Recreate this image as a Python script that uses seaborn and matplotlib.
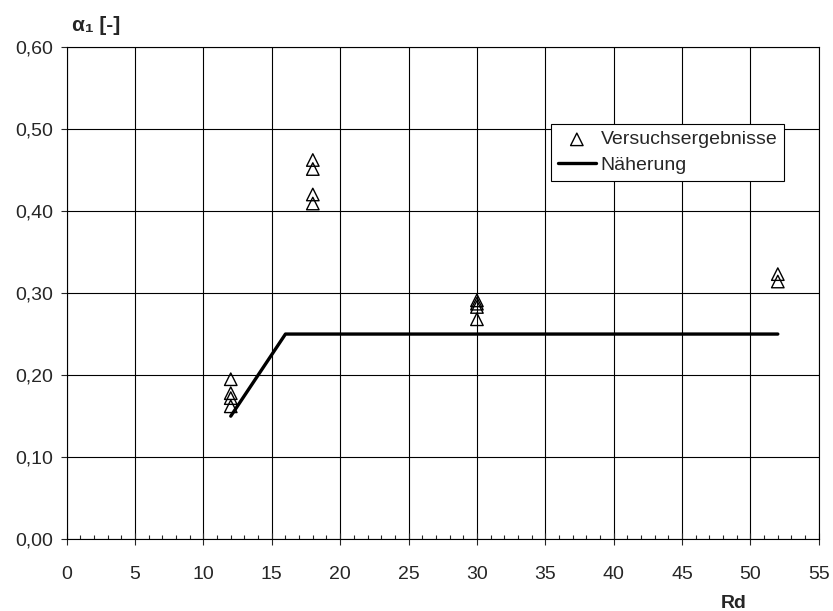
import numpy as np
import pandas as pd
import matplotlib
matplotlib.use("Agg")
import matplotlib.pyplot as plt
import seaborn as sns

# Data
rd_tests = [12, 12, 12, 12, 18, 18, 18, 18, 30, 30, 30, 30, 52, 52]
alpha_tests = [0.195, 0.178, 0.172, 0.162, 0.462, 0.451, 0.420, 0.409,
               0.291, 0.287, 0.283, 0.268, 0.323, 0.314]
rd_approx = [12, 16, 52]
alpha_approx = [0.15, 0.25, 0.25]
x_ticks = [0, 5, 10, 15, 20, 25, 30, 35, 40, 45, 50, 55]
y_ticks = [0.0, 0.1, 0.2, 0.3, 0.4, 0.5, 0.6]
y_tick_labels = ['0,00', '0,10', '0,20', '0,30', '0,40', '0,50', '0,60']

sns.set_style('white')
plt.rcParams['font.family'] = ['Liberation Sans', 'DejaVu Sans']

fig = plt.figure(figsize=(8.33, 6.11), dpi=100)
ax = fig.add_axes([0.080, 0.1173, 0.903, 0.8063])

tests = pd.DataFrame({'Rd': rd_tests, 'alpha': alpha_tests})
approx = pd.DataFrame({'Rd': rd_approx, 'alpha': alpha_approx})

sns.lineplot(data=approx, x='Rd', y='alpha', sort=False, color='black',
             linewidth=2.4, label='Näherung', ax=ax, zorder=3)
sns.scatterplot(data=tests, x='Rd', y='alpha', marker='^', s=81,
                facecolor='none', edgecolor='black', linewidth=1.0,
                label='Versuchsergebnisse', ax=ax, zorder=4)

# Axes and grid
ax.set_xlim(0, 55)
ax.set_ylim(0, 0.6)
ax.set_xticks(x_ticks)
ax.set_xticks(np.arange(0, 56, 1), minor=True)
ax.set_yticks(y_ticks)
ax.set_yticklabels(y_tick_labels)
ax.grid(True, which='major', color='black', linewidth=0.8)
ax.set_axisbelow(True)
for s in ax.spines.values():
    s.set_color('black')
    s.set_linewidth(0.8)
ax.tick_params(axis='x', which='major', direction='inout', length=8, width=0.8,
               pad=15, labelsize=14, bottom=True)
ax.tick_params(axis='x', which='minor', direction='in', length=3, width=0.8,
               bottom=True)
ax.tick_params(axis='y', which='major', direction='out', length=4, width=0.8,
               pad=6, labelsize=14, left=True)
ax.set_xlabel('')
ax.set_ylabel('')

# Legend
handles, labels = ax.get_legend_handles_labels()
order = [labels.index('Versuchsergebnisse'), labels.index('Näherung')]
leg = ax.legend([handles[i] for i in order], [labels[i] for i in order],
                loc='upper left', bbox_to_anchor=(0.644, 0.843),
                borderaxespad=0, fontsize=14, frameon=True, fancybox=False,
                framealpha=1, edgecolor='black', handlelength=1.95,
                handletextpad=0.26, borderpad=0.35, labelspacing=0.4)
leg.get_frame().set_linewidth(0.8)
leg.set_zorder(5)

# Axis titles
fig.text(0.0864, 0.959, 'α₁ [-]', fontsize=15, fontweight='bold',
         ha='left', va='center')
fig.text(0.881, -0.002, 'Rd', fontsize=14, fontweight='bold',
         ha='center', va='bottom')

fig.savefig('out.png', dpi=100)
